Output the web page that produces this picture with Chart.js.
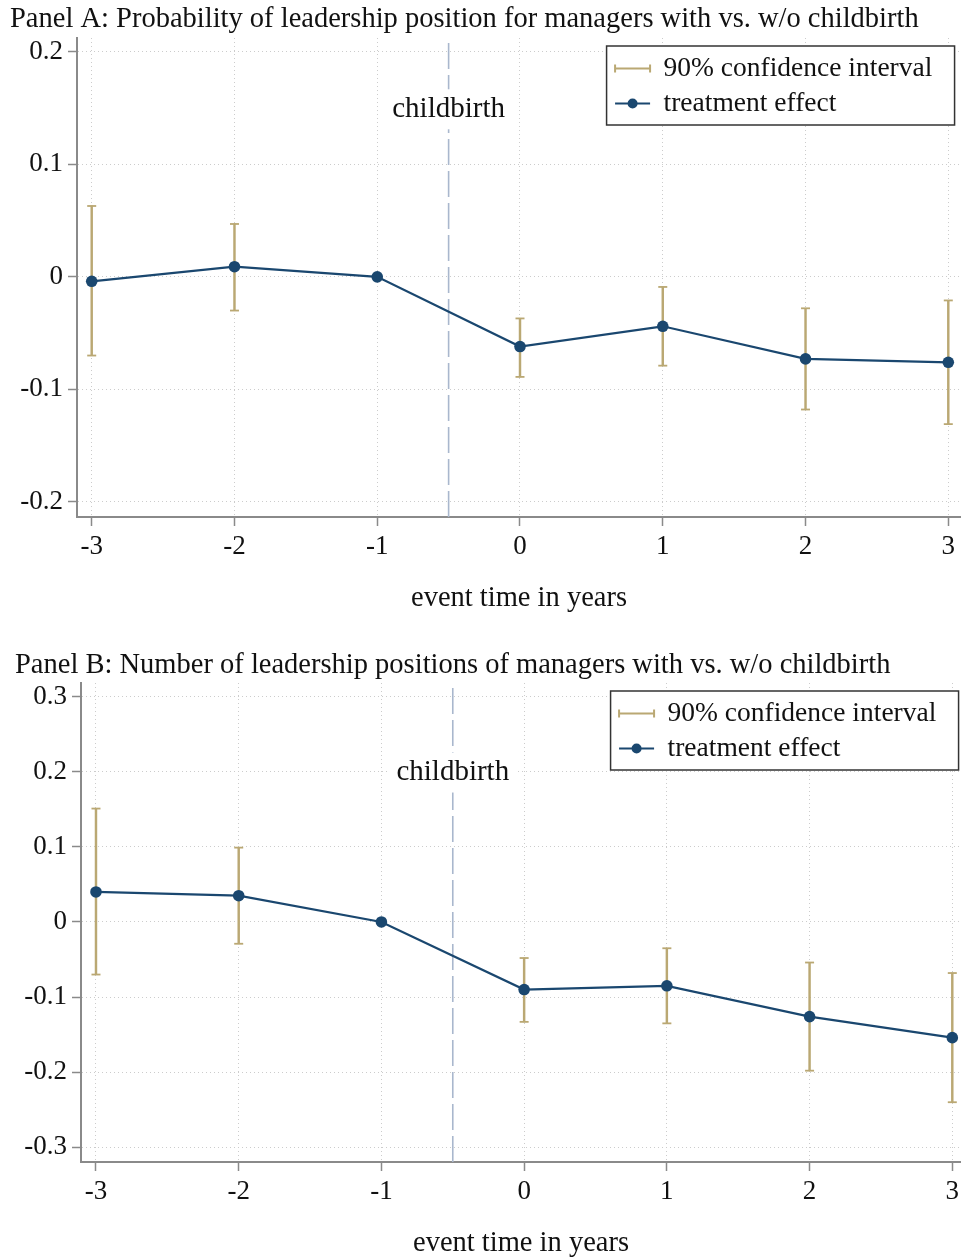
<!DOCTYPE html>
<html>
<head>
<meta charset="utf-8">
<title>Leadership positions around childbirth</title>
<script src="https://cdn.jsdelivr.net/npm/chart.js@4/dist/chart.umd.min.js"></script>
<style>
  html, body { margin: 0; padding: 0; background: #fff; overflow: hidden; }
  #wrap { position: relative; width: 961px; height: 1259px; overflow: hidden; }
  canvas { position: absolute; left: 0; }
  #panelA { top: 0; }
  #panelB { top: 640px; }
</style>
</head>
<body>
<div id="wrap">
  <canvas id="panelA" width="961" height="640"></canvas>
  <canvas id="panelB" width="961" height="621"></canvas>
</div>
<script>
// Event time relative to childbirth (years)
const eventTime = [-3, -2, -1, 0, 1, 2, 3];
const xTickValues = [-3, -2, -1, 0, 1, 2, 3];

// Panel A: probability of holding a leadership position
const probEffect = [-0.004, 0.009, 0, -0.062, -0.044, -0.073, -0.076];
const probCiLow  = [-0.070, -0.030, null, -0.089, -0.079, -0.118, -0.131];
const probCiHigh = [ 0.063,  0.047, null, -0.037, -0.009, -0.028, -0.021];
const probYTicks = [-0.2, -0.1, 0, 0.1, 0.2];

// Panel B: number of leadership positions
const countEffect = [0.040, 0.035, 0, -0.090, -0.085, -0.126, -0.154];
const countCiLow  = [-0.070, -0.029, null, -0.133, -0.135, -0.198, -0.240];
const countCiHigh = [ 0.151,  0.099, null, -0.048, -0.035, -0.054, -0.068];
const countYTicks = [-0.3, -0.2, -0.1, 0, 0.1, 0.2, 0.3];

const childbirthAt = -0.5;

const NAVY = '#1a476f';
const SAND = '#baa873';
const EVENT_LINE = '#a9b7cd';
const GRID = '#cccccc';
const AXIS = '#8a8a8a';
const INK = '#111111';
const SERIF = "'Liberation Serif', 'DejaVu Serif', serif";

Chart.defaults.font.family = SERIF;
Chart.defaults.color = INK;

// White-backed "childbirth" label sitting on the event line
const eventLabel = {
  id: 'eventLabel',
  afterDraw(chart, args, opts) {
    const { ctx, scales } = chart;
    const x = scales.x.getPixelForValue(childbirthAt);
    const y = scales.y.getPixelForValue(opts.value);
    ctx.save();
    ctx.font = '29px ' + SERIF;
    const w = ctx.measureText(opts.text).width;
    ctx.fillStyle = '#ffffff';
    ctx.fillRect(x - w / 2 - 8, y - 20, w + 16, 40);
    ctx.fillStyle = INK;
    ctx.textAlign = 'center';
    ctx.textBaseline = 'middle';
    ctx.fillText(opts.text, x, y);
    ctx.restore();
  }
};

// Boxed legend in the upper right of the plot
const boxLegend = {
  id: 'boxLegend',
  afterDraw(chart, args, opts) {
    const { ctx, scales, chartArea } = chart;
    const ds = chart.data.datasets;
    const ciLabel = ds.find(d => d.role === 'ci').label;
    const effLabel = ds.find(d => d.role === 'effect').label;
    const right = scales.x.getPixelForValue(opts.rightValue);
    const w = 348, h = 79;
    const left = right - w;
    const top = chartArea.top + 8;
    ctx.save();
    ctx.fillStyle = '#ffffff';
    ctx.fillRect(left, top, w, h);
    ctx.strokeStyle = '#333333';
    ctx.lineWidth = 1.5;
    ctx.strokeRect(left, top, w, h);

    const r1 = top + 22.5, r2 = top + 57.5;
    const s0 = left + 8.5, s1 = left + 43.5;
    // confidence interval sample
    ctx.strokeStyle = SAND;
    ctx.lineWidth = 2;
    ctx.beginPath();
    ctx.moveTo(s0, r1); ctx.lineTo(s1, r1);
    ctx.moveTo(s0, r1 - 4); ctx.lineTo(s0, r1 + 4);
    ctx.moveTo(s1, r1 - 4); ctx.lineTo(s1, r1 + 4);
    ctx.stroke();
    // treatment effect sample
    ctx.strokeStyle = NAVY;
    ctx.beginPath();
    ctx.moveTo(s0, r2); ctx.lineTo(s1, r2);
    ctx.stroke();
    ctx.fillStyle = NAVY;
    ctx.beginPath();
    ctx.arc((s0 + s1) / 2, r2, 5, 0, Math.PI * 2);
    ctx.fill();

    ctx.fillStyle = INK;
    ctx.font = '27.5px ' + SERIF;
    ctx.textAlign = 'left';
    ctx.textBaseline = 'middle';
    ctx.fillText(ciLabel, left + 57, r1);
    ctx.fillText(effLabel, left + 57, r2);
    ctx.restore();
  }
};

function makePanel(canvasId, p) {
  const ciBars = [], ciLowCaps = [], ciHighCaps = [], effect = [];
  eventTime.forEach((t, i) => {
    effect.push({ x: t, y: p.effect[i] });
    if (p.low[i] !== null && p.high[i] !== null) {
      ciBars.push({ x: t, y: [p.low[i], p.high[i]] });
      ciLowCaps.push({ x: t, y: p.low[i] });
      ciHighCaps.push({ x: t, y: p.high[i] });
    }
  });

  return new Chart(document.getElementById(canvasId), {
    type: 'line',
    data: {
      datasets: [
        {
          type: 'line', label: 'childbirth', role: 'event',
          data: [{ x: childbirthAt, y: p.yMin }, { x: childbirthAt, y: p.yMax }],
          borderColor: EVENT_LINE, borderWidth: 1.6, borderDash: [26, 6],
          pointRadius: 0, order: 10
        },
        {
          type: 'bar', label: '90% confidence interval', role: 'ci',
          data: ciBars, backgroundColor: SAND, borderWidth: 0,
          barThickness: 1.8, order: 6
        },
        {
          type: 'scatter', label: 'ci low', role: 'cap', data: ciLowCaps,
          pointStyle: 'line', pointRadius: 4.5, pointBorderWidth: 1.8,
          borderColor: SAND, backgroundColor: SAND, order: 5
        },
        {
          type: 'scatter', label: 'ci high', role: 'cap', data: ciHighCaps,
          pointStyle: 'line', pointRadius: 4.5, pointBorderWidth: 1.8,
          borderColor: SAND, backgroundColor: SAND, order: 5
        },
        {
          type: 'line', label: 'treatment effect', role: 'effect', data: effect,
          borderColor: NAVY, borderWidth: 2.2, tension: 0,
          pointRadius: 5.8, pointBackgroundColor: NAVY, pointBorderWidth: 0,
          order: 1
        }
      ]
    },
    options: {
      responsive: false,
      animation: false,
      devicePixelRatio: 1,
      events: [],
      layout: {
        autoPadding: false,
        padding: { left: p.padLeft, right: 0, top: 0, bottom: 0 }
      },
      scales: {
        x: {
          type: 'linear', min: p.xMin, max: p.xMax, offset: false,
          afterBuildTicks: s => { s.ticks = xTickValues.map(v => ({ value: v })); },
          afterFit: s => {
            s.height = p.xAxisHeight;
            s.paddingLeft = 0; s.paddingRight = 0;
          },
          ticks: {
            font: { size: 27, lineHeight: 1 }, color: INK, padding: 7,
            maxRotation: 0, autoSkip: false,
            callback: v => String(v)
          },
          grid: {
            color: GRID, lineWidth: 1, drawTicks: true, tickLength: 9,
            tickColor: AXIS, tickWidth: 1.5, tickBorderDash: [], offset: false
          },
          border: { display: true, color: AXIS, width: 2, dash: [1, 3] },
          title: {
            display: true, text: 'event time in years', color: INK,
            font: { size: 28.5, lineHeight: 1.2 },
            padding: { top: 0, bottom: p.xTitlePadBottom }
          }
        },
        y: {
          type: 'linear', min: p.yMin, max: p.yMax,
          afterBuildTicks: s => { s.ticks = p.yTicks.map(v => ({ value: v })); },
          afterFit: s => {
            s.width = p.yAxisWidth;
            s.paddingTop = 0; s.paddingBottom = 0;
          },
          ticks: {
            font: { size: 27, lineHeight: 1 }, color: INK, padding: 5,
            callback: v => (Math.abs(v) < 1e-9 ? '0' : v.toFixed(1))
          },
          grid: {
            color: GRID, lineWidth: 1, drawTicks: true, tickLength: 9,
            tickColor: AXIS, tickWidth: 1.5, tickBorderDash: []
          },
          border: { display: true, color: AXIS, width: 2, dash: [1, 3] }
        }
      },
      plugins: {
        legend: { display: false },
        tooltip: { enabled: false },
        title: {
          display: true, text: p.title, align: 'start', color: INK,
          font: { size: 28.5, weight: 'normal', lineHeight: 1.2 },
          padding: { top: p.titlePadTop, bottom: p.titlePadBottom }
        },
        eventLabel: { text: 'childbirth', value: p.labelValue },
        boxLegend: { rightValue: 3.044 }
      }
    },
    plugins: [eventLabel, boxLegend]
  });
}

makePanel('panelA', {
  title: 'Panel A: Probability of leadership position for managers with vs. w/o childbirth',
  effect: probEffect, low: probCiLow, high: probCiHigh, yTicks: probYTicks,
  yMin: -0.2136, yMax: 0.2124, xMin: -3.103, xMax: 3.089,
  padLeft: 10, yAxisWidth: 67, xAxisHeight: 123, xTitlePadBottom: 24,
  titlePadTop: 2, titlePadBottom: 1.8, labelValue: 0.149
});

makePanel('panelB', {
  title: 'Panel B: Number of leadership positions of managers with vs. w/o childbirth',
  effect: countEffect, low: countCiLow, high: countCiHigh, yTicks: countYTicks,
  yMin: -0.3196, yMax: 0.3182, xMin: -3.105, xMax: 3.061,
  padLeft: 15, yAxisWidth: 66, xAxisHeight: 99, xTitlePadBottom: 0,
  titlePadTop: 8, titlePadBottom: 0.8, labelValue: 0.199
});
</script>
</body>
</html>
